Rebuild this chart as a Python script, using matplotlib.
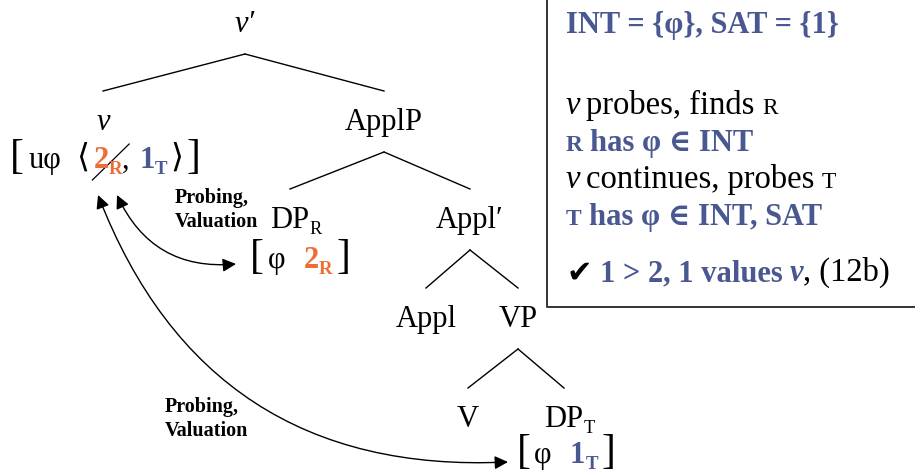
import matplotlib.pyplot as plt
from matplotlib.patches import FancyArrowPatch

SERIF = ['Liberation Serif', 'DejaVu Serif']
SYM = ['DejaVu Sans']
ORANGE = '#EF6C37'
BLUE = '#4A5892'

# tree nodes and links
node_labels = ['v′', 'v', 'ApplP', 'DP', 'Appl′', 'Appl', 'VP', 'V', 'DP']
node_subs = ['', '', '', 'R', '', '', '', '', 'T']
node_italic = [True, True, False, False, False, False, False, False, False]
edges = [(0, 1), (0, 2), (2, 3), (2, 4), (4, 5), (4, 6), (6, 7), (6, 8)]

# feature bundles
v_probe = 'uφ'
v_values = [('2', 'R'), ('1', 'T')]
dp_r_value = ('2', 'R')
dp_t_value = ('1', 'T')
arrow_label = 'Probing,\nValuation'

# side box text
info_head = 'INT = {φ}, SAT = {1}'
step_1 = ('probes, finds', 'R')
step_2 = ('R', 'has φ ∈ INT')
step_3 = ('continues, probes', 'T')
step_4 = ('T', 'has φ ∈ INT, SAT')
result = ('1 > 2, 1 values', 'v', ', (12b)')

# layout (pixels, y down)
node_x = [245, 103, 384, 290, 470, 426, 518, 468, 564]
node_y = [32, 130, 130, 228, 228, 327, 327, 427, 427]
FS = 22
FS_BOX = 23.5
FS_BOLD = 22

fig = plt.figure(figsize=(9.15, 4.76), dpi=100)
ax = fig.add_axes([0, 0, 1, 1])
ax.set_xlim(0, 915)
ax.set_ylim(476, 0)
ax.axis('off')
r = fig.canvas.get_renderer()


def run(x, y, pieces, ha='left', fs=FS):
    # pieces: text tuples (s, props) or numbers (gap px)
    objs = []
    cx = x
    for p in pieces:
        if isinstance(p, (int, float)):
            cx += p
            continue
        s, kw = p
        kw = dict(kw)
        dy = kw.pop('dy', 0)
        kw.setdefault('family', SERIF)
        kw.setdefault('fontsize', fs)
        t = ax.text(cx, y + dy, s, va='baseline', ha='left', **kw)
        cx += t.get_window_extent(r).width
        objs.append(t)
    if ha == 'center':
        shift = (cx - x) / 2
        for t in objs:
            px, py = t.get_position()
            t.set_position((px - shift, py))
    return objs


# tree labels
for i, lab in enumerate(node_labels):
    t = ax.text(node_x[i], node_y[i], lab, ha='center', va='baseline',
                family=SERIF, fontsize=FS,
                style='italic' if node_italic[i] else 'normal')
    if node_subs[i]:
        ext = t.get_window_extent(r)
        ax.text(ext.x1, node_y[i] + 6, node_subs[i], ha='left',
                va='baseline', family=SERIF, fontsize=FS * 0.6)

for a, b in edges:
    ax.plot([node_x[a], node_x[b]], [node_y[a] + 22, node_y[b] - 39],
            color='black', lw=1)

BR = dict(fontsize=30)
ANG = dict(family=['DejaVu Serif'], fontsize=24, dy=-1)
sub = lambda c: dict(fontsize=FS * 0.62, weight='bold', color=c, dy=6)

# v features
row1 = run(105, 168, [('[', BR), 5, (v_probe, {}), 15, ('⟨', ANG), 4,
                      (v_values[0][0], dict(weight='bold', color=ORANGE)),
                      (v_values[0][1], sub(ORANGE)), (',', {}), 10,
                      (v_values[1][0], dict(weight='bold', color=BLUE)),
                      (v_values[1][1], sub(BLUE)), 3,
                      ('⟩', ANG), 3, (']', BR)], ha='center')
# strike through the R value
e1 = row1[3].get_window_extent(r)
e2 = row1[4].get_window_extent(r)
ax.plot([e1.x0 - 1, e2.x1 + 7], [180, 144], color='black', lw=0.9)

run(300, 268, [('[', BR), 4, ('φ', {}), 18,
               (dp_r_value[0], dict(weight='bold', color=ORANGE)),
               (dp_r_value[1], sub(ORANGE)), 4, (']', BR)], ha='center')
run(566, 463, [('[', BR), 4, ('φ', {}), 18,
               (dp_t_value[0], dict(weight='bold', color=BLUE)),
               (dp_t_value[1], sub(BLUE)), 4, (']', BR)], ha='center')

# probe arrows
for (x0, y0), (x1, y1), rad in [((117, 195), (236, 264), 0.35),
                                ((98, 195), (508, 462), 0.36)]:
    ax.add_patch(FancyArrowPatch((x0, y0), (x1, y1),
                                 connectionstyle=f'arc3,rad={rad}',
                                 arrowstyle='<|-|>', mutation_scale=20,
                                 lw=1, color='black', shrinkA=0, shrinkB=0))

ax.text(175, 227, arrow_label, family=SERIF, fontsize=14.5, weight='bold',
        va='baseline', linespacing=1.25)
ax.text(165, 436, arrow_label, family=SERIF, fontsize=14.5, weight='bold',
        va='baseline', linespacing=1.25)

# side box
ax.plot([547, 547, 920], [-2, 307, 307], color='#333333', lw=1.4)
bx = 566
SC = FS_BOX * 0.72
run(bx, 33, [(info_head, dict(color=BLUE, weight='bold', fontsize=FS_BOLD))])
run(bx, 114, [('v', dict(style='italic')), 6, (step_1[0], {}), 7,
              (step_1[1], dict(fontsize=SC))], fs=FS_BOX)
run(bx, 151, [(step_2[0], dict(fontsize=SC, color=BLUE, weight='bold')), 7,
              (step_2[1], dict(color=BLUE, weight='bold'))], fs=FS_BOLD)
run(bx, 188, [('v', dict(style='italic')), 6, (step_3[0], {}), 7,
              (step_3[1], dict(fontsize=SC))], fs=FS_BOX)
run(bx, 225, [(step_4[0], dict(fontsize=SC, color=BLUE, weight='bold')), 7,
              (step_4[1], dict(color=BLUE, weight='bold'))], fs=FS_BOLD)
run(bx, 281, [('✔', dict(family=SYM, fontsize=22)), 8,
              (result[0], dict(color=BLUE, weight='bold', fontsize=FS_BOLD)), 7,
              (result[1], dict(color=BLUE, weight='bold', style='italic', fontsize=FS_BOLD)),
              (result[2], {})], fs=FS_BOX)

fig.savefig('out.png', dpi=100)
